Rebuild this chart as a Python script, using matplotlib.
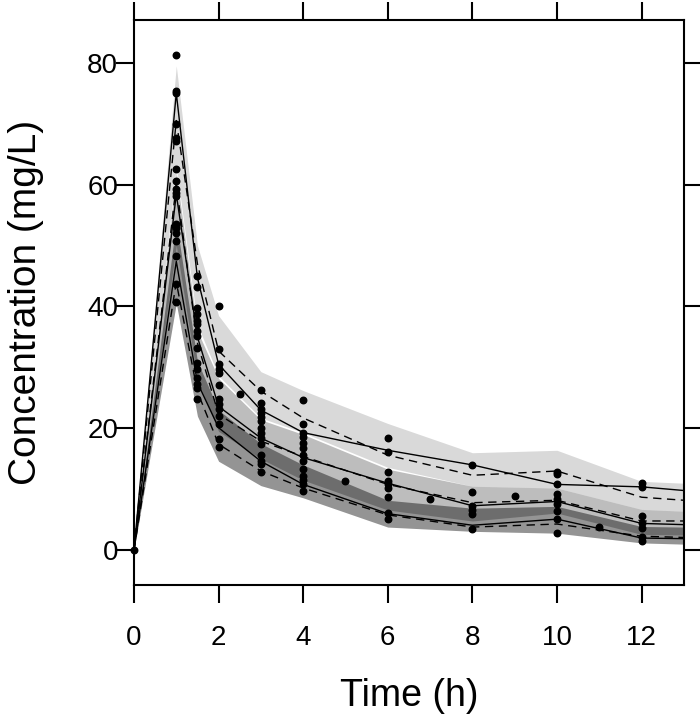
import matplotlib
matplotlib.use("Agg")
import matplotlib.pyplot as plt

plt.rcParams['font.family'] = ['Liberation Sans', 'DejaVu Sans']

# time grid of the VPC summary
vpc_time = [0, 1, 1.5, 2, 3, 4, 6, 8, 10, 12, 13]

# confidence bands of simulated percentiles (95th, 50th, 5th)
up_hi = [0, 79.5, 50, 38.5, 29.3, 26.2, 20.8, 16.0, 16.4, 11.3, 11.0]
up_lo = [0, 63, 37, 28.6, 21.7, 19.3, 13.6, 10.5, 10.2, 6.7, 6.4]
med_hi = [0, 62, 36, 28.2, 21.4, 19.0, 13.3, 10.5, 10.2, 6.7, 6.4]
med_lo = [0, 50, 28, 19.5, 15.0, 11.5, 6.6, 4.8, 6.1, 2.6, 2.5]
low_hi = [0, 54, 31, 23.0, 17.5, 14.0, 8.2, 6.9, 7.2, 3.9, 3.8]
low_lo = [0, 40.5, 22, 14.6, 10.6, 8.6, 3.8, 3.1, 2.8, 1.2, 1.0]

# observed percentiles (solid) and simulated median percentiles (dashed)
obs_95 = [0, 75.0, 44.7, 30.5, 23.0, 19.3, 16.4, 14.0, 10.8, 10.4, 9.8]
obs_50 = [0, 58.4, 35.0, 23.6, 18.4, 15.2, 11.0, 7.3, 8.0, 4.4, 4.2]
obs_05 = [0, 47.4, 27.5, 20.1, 14.6, 10.8, 6.0, 4.1, 5.1, 2.0, 1.9]
sim_95 = [0, 70.5, 47.0, 32.7, 26.1, 21.7, 15.6, 12.3, 13.0, 8.7, 8.2]
sim_50 = [0, 60.0, 34.0, 22.3, 17.9, 15.4, 10.8, 7.8, 8.2, 4.8, 4.8]
sim_05 = [0, 44.0, 26.0, 17.4, 13.0, 10.2, 5.8, 3.8, 4.3, 2.3, 2.1]

# observed concentrations
obs_t = ([0] + [1] * 18 + [1.5] * 15 + [2] * 13 + [2.5] + [3] * 14 + [4] * 13
         + [5] + [6] * 9 + [7] + [8] * 6 + [9] + [10] * 9 + [11] + [12] * 7)
obs_c = ([0]
         + [81.3, 75.3, 75.0, 69.9, 67.7, 67.2, 62.6, 60.6, 59.3, 58.6, 58.1,
            53.5, 52.9, 52.1, 50.7, 48.3, 43.7, 40.8]
         + [45.0, 43.2, 39.8, 38.7, 37.6, 37.1, 36.0, 35.1, 33.2, 30.7, 29.8,
            28.2, 27.3, 26.6, 24.8]
         + [40.0, 33.0, 30.5, 29.8, 29.1, 27.1, 24.8, 24.0, 23.2, 22.0, 20.7,
            18.2, 16.9]
         + [25.6]
         + [26.3, 24.2, 23.2, 22.5, 21.8, 21.2, 20.0, 19.2, 18.4, 17.4, 15.7,
            14.6, 14.1, 12.9]
         + [24.6, 20.7, 19.2, 18.5, 17.6, 16.8, 15.7, 14.6, 13.3, 12.2, 11.5,
            10.8, 9.7]
         + [11.3]
         + [18.4, 16.1, 12.9, 11.3, 10.8, 10.2, 8.7, 6.1, 5.2]
         + [8.4]
         + [14.0, 9.5, 7.2, 6.6, 5.9, 3.5]
         + [8.9]
         + [12.8, 12.5, 10.8, 9.2, 8.4, 7.6, 6.4, 5.1, 2.8]
         + [3.8]
         + [11.0, 10.3, 5.6, 4.5, 3.7, 2.1, 1.5])

fig = plt.figure(figsize=(7, 7.19), dpi=100)
ax = fig.add_axes([0.1914, 0.1864, 0.7856, 0.7858])

ax.fill_between(vpc_time, up_lo, up_hi, color='black', alpha=0.15, lw=0)
ax.fill_between(vpc_time, med_lo, med_hi, color='black', alpha=0.26, lw=0)
ax.fill_between(vpc_time, low_lo, low_hi, color='black', alpha=0.42, lw=0)

for y in (obs_95, obs_50, obs_05):
    ax.plot(vpc_time, y, color='black', lw=1)
for y in (sim_95, sim_50, sim_05):
    ax.plot(vpc_time, y, color='black', lw=1, dashes=(6, 4))

ax.scatter(obs_t, obs_c, s=22, color='black', zorder=5, clip_on=False)

ax.set_xlim(0, 13)
ax.set_ylim(-5.7, 87)
ax.set_xticks([0, 2, 4, 6, 8, 10, 12])
ax.set_yticks([0, 20, 40, 60, 80])
ax.tick_params(direction='out', top=True, right=True, length=13, width=1.5,
               labelsize=20)
ax.tick_params(axis='x', pad=16)
ax.tick_params(axis='y', pad=-1.5)
for s in ax.spines.values():
    s.set_linewidth(1.5)

ax.set_xlabel("Time (h)", fontsize=27, labelpad=19)
ax.set_ylabel("Concentration (mg/L)", fontsize=28, labelpad=31)

fig.savefig("out.png", dpi=100)
